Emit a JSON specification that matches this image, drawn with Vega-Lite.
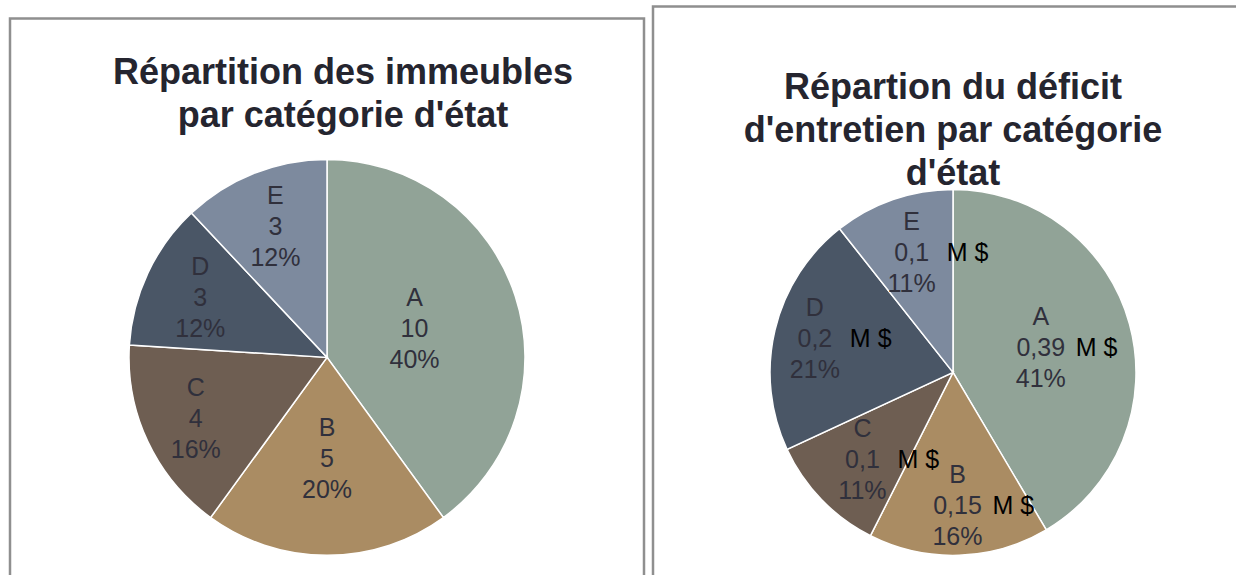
{
  "$schema": "https://vega.github.io/schema/vega-lite/v6.json",
  "padding": {"left": 8, "top": 5, "right": 0, "bottom": 0},
  "spacing": 5,
  "center": true,
  "config": {
    "view": {"stroke": "#8f8f8f", "strokeWidth": 2.5},
    "style": {"view": {"stroke": "#8f8f8f", "strokeWidth": 2.5}},
    "title": {"font": "Liberation Sans", "fontSize": 36, "fontWeight": "bold", "color": "#25252f", "lineHeight": 43, "anchor": "middle", "frame": "group"}
  },
  "hconcat": [
    {
      "width": 634,
      "height": 576,
      "view": {"stroke": "#8f8f8f", "strokeWidth": 2.5},
      "title": {"text": ["Répartition des immeubles", "par catégorie d'état"], "offset": -117, "dx": 16},
      "data": {"values": [
        {"cat": "A", "valeur": 10},
        {"cat": "B", "valeur": 5},
        {"cat": "C", "valeur": 4},
        {"cat": "D", "valeur": 3},
        {"cat": "E", "valeur": 3}
      ]},
      "transform": [
        {"joinaggregate": [{"op": "sum", "field": "valeur", "as": "total"}]},
        {"calculate": "datum.valeur / datum.total", "as": "pct"},
        {"calculate": "datum.cat + '\\n' + toString(datum.valeur) + '\\n' + format(datum.pct, '.0%')", "as": "etiquette"}
      ],
      "encoding": {
        "theta": {"field": "valeur", "type": "quantitative", "stack": true},
        "color": {"field": "cat", "type": "nominal", "legend": null,
          "scale": {"domain": ["A", "B", "C", "D", "E"], "range": ["#91a397", "#aa8c63", "#6e5e52", "#4a5666", "#7d8a9e"]}}
      },
      "layer": [
        {"mark": {"type": "arc", "outerRadius": 198, "y": 339, "stroke": "#ffffff", "strokeWidth": 1.5}},
        {
          "mark": {"type": "text", "y": 339, "dy": -31, "font": "Liberation Sans", "fontSize": 25, "lineHeight": 31, "lineBreak": "\n", "baseline": "middle", "align": "center"},
          "encoding": {
            "text": {"field": "etiquette", "type": "nominal"},
            "color": {"value": "#30303c"},
            "radius": {"field": "valeur", "type": "quantitative", "scale": {"type": "linear", "zero": false, "domain": [3, 4, 5, 10], "range": [140, 145, 102, 92]}}
          }
        }
      ]
    },
    {
      "width": 586,
      "height": 600,
      "view": {"stroke": "#8f8f8f", "strokeWidth": 2.5},
      "title": {"text": ["Répartion du déficit", "d'entretien par catégorie", "d'état"], "offset": -187, "dx": 7},
      "data": {"values": [
        {"cat": "A", "valeur": 0.39},
        {"cat": "B", "valeur": 0.15},
        {"cat": "C", "valeur": 0.1},
        {"cat": "D", "valeur": 0.2},
        {"cat": "E", "valeur": 0.1}
      ]},
      "transform": [
        {"joinaggregate": [{"op": "sum", "field": "valeur", "as": "total"}]},
        {"calculate": "datum.valeur / datum.total", "as": "pct"},
        {"calculate": "datum.cat + '\\n' + replace(toString(datum.valeur), '.', ',') + '\\n' + format(datum.pct, '.0%')", "as": "etiquette"}
      ],
      "encoding": {
        "theta": {"field": "valeur", "type": "quantitative", "stack": true},
        "color": {"field": "cat", "type": "nominal", "legend": null,
          "scale": {"domain": ["A", "B", "C", "D", "E"], "range": ["#91a397", "#aa8c63", "#6e5e52", "#4a5666", "#7d8a9e"]}}
      },
      "layer": [
        {"mark": {"type": "arc", "outerRadius": 183, "x": 300, "y": 366, "stroke": "#ffffff", "strokeWidth": 1.5}},
        {
          "mark": {"type": "text", "x": 300, "y": 366, "dy": -31, "font": "Liberation Sans", "fontSize": 25, "lineHeight": 31, "lineBreak": "\n", "baseline": "middle", "align": "center"},
          "encoding": {
            "text": {"field": "etiquette", "type": "nominal"},
            "color": {"value": "#30303c"},
            "radius": {"field": "valeur", "type": "quantitative", "scale": {"type": "linear", "zero": false, "domain": [0.1, 0.2, 0.39], "range": [126, 142, 91]}}
          }
        },
        {
          "mark": {"type": "text", "x": 300, "y": 366, "font": "Liberation Sans", "fontSize": 25, "baseline": "middle", "align": "left", "dx": 35, "text": "M $"},
          "encoding": {
            "color": {"value": "#000000"},
            "radius": {"field": "valeur", "type": "quantitative", "scale": {"type": "linear", "zero": false, "domain": [0.1, 0.2, 0.39], "range": [126, 142, 91]}}
          }
        }
      ]
    }
  ]
}
